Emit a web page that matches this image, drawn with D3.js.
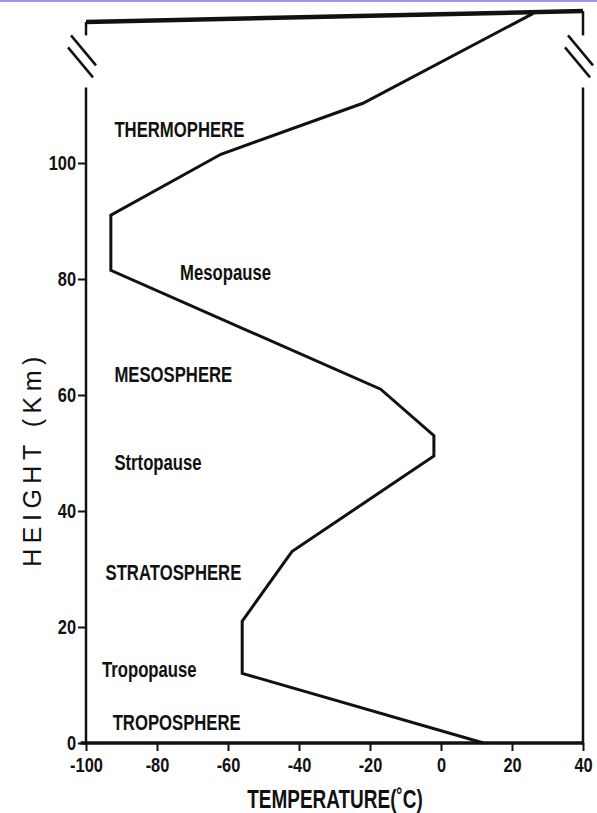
<!DOCTYPE html>
<html>
<head>
<meta charset="utf-8">
<script src="https://cdn.jsdelivr.net/npm/d3@7"></script>
<style>
  body { margin: 0; background: #fff; }
  svg { display: block; }
  .narrow { font-family: "Liberation Sans", Arial, sans-serif; font-weight: bold; fill: #111; }
  .axis path, .axis line { stroke: #111; }
</style>
</head>
<body>
<div id="chart"></div>
<script>
'use strict';

// temperature profile, [temperature °C, height km]
const temperature = [12, -56, -56, -42, -2, -2, -17, -93, -93, -62, -22, 26];
const height      = [0, 12, 21, 33, 49.5, 53, 61, 81.5, 91, 101.5, 110.3, 125.8];

const layerNames   = ['THERMOPHERE', 'Mesopause', 'MESOSPHERE', 'Strtopause', 'STRATOSPHERE', 'Tropopause', 'TROPOSPHERE'];
const layerTemp    = [-92, -73.5, -92, -92, -94.5, -95.5, -92.5];
const layerHeight  = [104.6, 80, 62.5, 47.2, 28.2, 11.6, 2.4];

const xTicks = [-100, -80, -60, -40, -20, 0, 20, 40];
const yTicks = [0, 20, 40, 60, 80, 100];

// axis break (km) and the slightly skewed top edge of the frame
const breakFrom = 113, breakTo = 122;
const frameTop = [124.3, 126.2];

const width = 597, heightPx = 813;
const narrowX = 0.78;   // no narrow face installed, squeeze the bold one
const x = d3.scaleLinear().domain([-100, 40]).range([86, 583]);
const y = d3.scaleLinear().domain([0, 100]).range([743, 163]);

const svg = d3.select('#chart').append('svg')
    .attr('width', width)
    .attr('height', heightPx);

svg.append('rect').attr('x', 0).attr('y', 0)
    .attr('width', width).attr('height', 2)
    .attr('fill', '#9a9af0');

const yAxis = d3.axisLeft(y).tickValues(yTicks).tickSize(8).tickFormat(d => String(d));
const gy = svg.append('g').attr('class', 'axis')
    .attr('transform', `translate(${x(-100)},0)`)
    .call(yAxis);
gy.select('.domain').remove();
gy.selectAll('line').attr('stroke-width', 2);
gy.selectAll('text').attr('class', 'narrow').style('font-size', '21px')
    .attr('x', 0).attr('transform', `translate(-10,0) scale(${narrowX},1)`);

const xAxis = d3.axisBottom(x).tickValues(xTicks).tickSize(8).tickPadding(6).tickFormat(d => String(d));
const gx = svg.append('g').attr('class', 'axis')
    .attr('transform', `translate(0,${y(0)})`)
    .call(xAxis);
gx.select('.domain').remove();
gx.selectAll('line').attr('stroke-width', 2);
gx.selectAll('text').attr('class', 'narrow').style('font-size', '21px')
    .attr('transform', `scale(${narrowX},1)`);

// frame: side lines with break, bottom and top
const frame = svg.append('g').attr('stroke', '#111').attr('fill', 'none');
[[-100, frameTop[0]], [40, frameTop[1]]].forEach(([t, top]) => {
    frame.append('line').attr('x1', x(t)).attr('x2', x(t))
        .attr('y1', y(-0.3)).attr('y2', y(breakFrom)).attr('stroke-width', 2.5);
    frame.append('line').attr('x1', x(t)).attr('x2', x(t))
        .attr('y1', y(breakTo)).attr('y2', y(top)).attr('stroke-width', 2.5);
    [0, 1].forEach(i => {
        frame.append('line')
            .attr('x1', x(t) - 15 - i * 3).attr('y1', y(breakTo) + i * 12)
            .attr('x2', x(t) + 10 - i * 3).attr('y2', y(breakTo) + 30 + i * 12)
            .attr('stroke-width', 2.5);
    });
});
frame.append('line').attr('x1', x(-101.5)).attr('x2', x(40))
    .attr('y1', y(0)).attr('y2', y(0)).attr('stroke-width', 3.5);
frame.append('line').attr('x1', x(-100)).attr('x2', x(40))
    .attr('y1', y(frameTop[0])).attr('y2', y(frameTop[1]))
    .attr('stroke-width', 4.5);

// temperature curve
const line = d3.line()
    .x((d, i) => x(temperature[i]))
    .y(d => y(d));
svg.append('path')
    .attr('d', line(height))
    .attr('fill', 'none')
    .attr('stroke', '#111')
    .attr('stroke-width', 3)
    .attr('stroke-linejoin', 'miter');

// layer names
svg.selectAll('.layer').data(layerNames)
    .enter().append('text')
        .attr('class', 'narrow layer')
        .attr('transform', (d, i) => `translate(${x(layerTemp[i])},${y(layerHeight[i]) + 1}) scale(0.76,1)`)
        .style('font-size', '22px')
        .text(d => d);

svg.append('text')
    .attr('class', 'narrow')
    .attr('transform', 'translate(335,808) scale(0.73,1)')
    .attr('text-anchor', 'middle')
    .style('font-size', '26px')
    .text('TEMPERATURE(˚C)');

svg.append('text')
    .attr('transform', 'translate(41,459) rotate(-90)')
    .attr('text-anchor', 'middle')
    .style('font-family', '"Liberation Sans", Arial, sans-serif')
    .style('font-size', '25px')
    .style('letter-spacing', '5.5px')
    .attr('fill', '#111')
    .text('HEIGHT (Km)');
</script>
</body>
</html>
